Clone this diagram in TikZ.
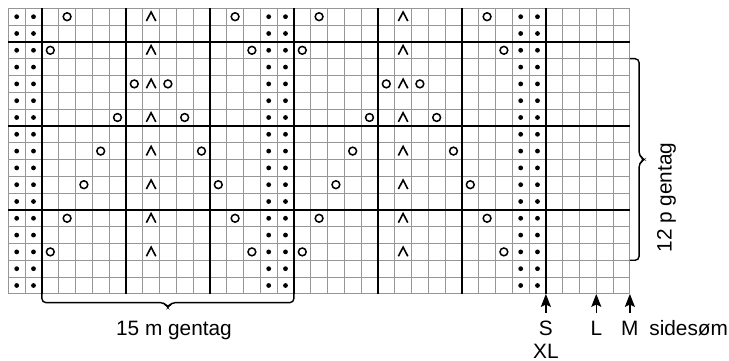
\documentclass[tikz,border=0pt]{standalone}
\usepackage{fontspec}
\setmainfont{Liberation Sans}
\usetikzlibrary{arrows.meta}
\usepackage{xcolor}
\definecolor{gridgray}{RGB}{150,150,150}

\begin{document}
\begin{tikzpicture}[
    x=8.4pt, y=-8.4pt,
    gridline/.style={draw=gridgray, line width=0.55pt},
    thickline/.style={draw=black, line width=0.9pt},
    purldot/.style={fill=black},
    yarnover/.style={draw=black, line width=0.75pt},
    decrease/.style={draw=black, line width=0.8pt, line join=miter},
    brace/.style={draw=black, line width=0.7pt, rounded corners=2pt},
    sizearrow/.style={-{Stealth[length=6.5pt,width=5pt,inset=1.2pt]}, line width=0.7pt},
    lbl/.style={font=\fontsize{10.4}{12}\selectfont, inner sep=0pt, anchor=base}
]

\useasboundingbox (-0.494,-0.494) rectangle (42.9,20.99);

% Grid
\foreach \x in {0,...,37}
    \draw[gridline] (\x,0) -- (\x,17);
\foreach \y in {0,...,17}
    \draw[gridline] (0,\y) -- (37,\y);
\foreach \x in {2,7,...,32}
    \draw[thickline] (\x,0) -- (\x,17);
\foreach \y in {2,7,12}
    \draw[thickline] (0,\y) -- (37,\y);

% Purl columns
\foreach \c in {1,2,16,17,31,32}
    \foreach \r in {1,...,17}
        \fill[purldot] (\c-0.5,\r-0.5) circle (1.2pt);

% Yarn overs and double decreases
\foreach \r/\a/\b in {1/4/14, 3/3/15, 5/8/10, 7/7/11, 9/6/12, 11/5/13, 13/4/14, 15/3/15}
    \foreach \k in {0,15} {
        \draw[yarnover] (\a+\k-0.5,\r-0.5) circle (1.95pt);
        \draw[yarnover] (\b+\k-0.5,\r-0.5) circle (1.95pt);
        \draw[decrease] (9+\k-0.78,\r-0.24) -- (9+\k-0.5,\r-0.78) -- (9+\k-0.22,\r-0.24);
    }

% Repeat braces
\draw[brace] (2,17) -- (2,17.52) -- (9.3,17.52) -- (9.5,17.85) -- (9.7,17.52) -- (17,17.52) -- (17,17);
\draw[brace] (37,3) -- (37.55,3) -- (37.55,8.8) -- (37.9,9) -- (37.55,9.2) -- (37.55,15) -- (37,15);

\node[lbl] (rep15) at (9.86,19.45) {15 m gentag};
\node[lbl, rotate=90] (rep12) at (39.48,11.26) {12 p gentag};

% Size marks
\coordinate (stail) at (32,18.15);
\coordinate (stip) at (32,17);
\coordinate (ltail) at (35,18.15);
\coordinate (ltip) at (35,17);
\coordinate (mtail) at (37,18.15);
\coordinate (mtip) at (37,17);
\draw[sizearrow] (stail) -- (stip);
\draw[sizearrow] (ltail) -- (ltip);
\draw[sizearrow] (mtail) -- (mtip);

\node[lbl] (sizes) at (32,19.45) {S};
\node[lbl] (sizexl) at (32,20.87) {XL};
\node[lbl] (sizel) at (35,19.45) {L};
\node[lbl] (sizem) at (37,19.45) {M};
\node[lbl] (seam) at (40.5,19.45) {sidesøm};

\end{tikzpicture}
\end{document}
